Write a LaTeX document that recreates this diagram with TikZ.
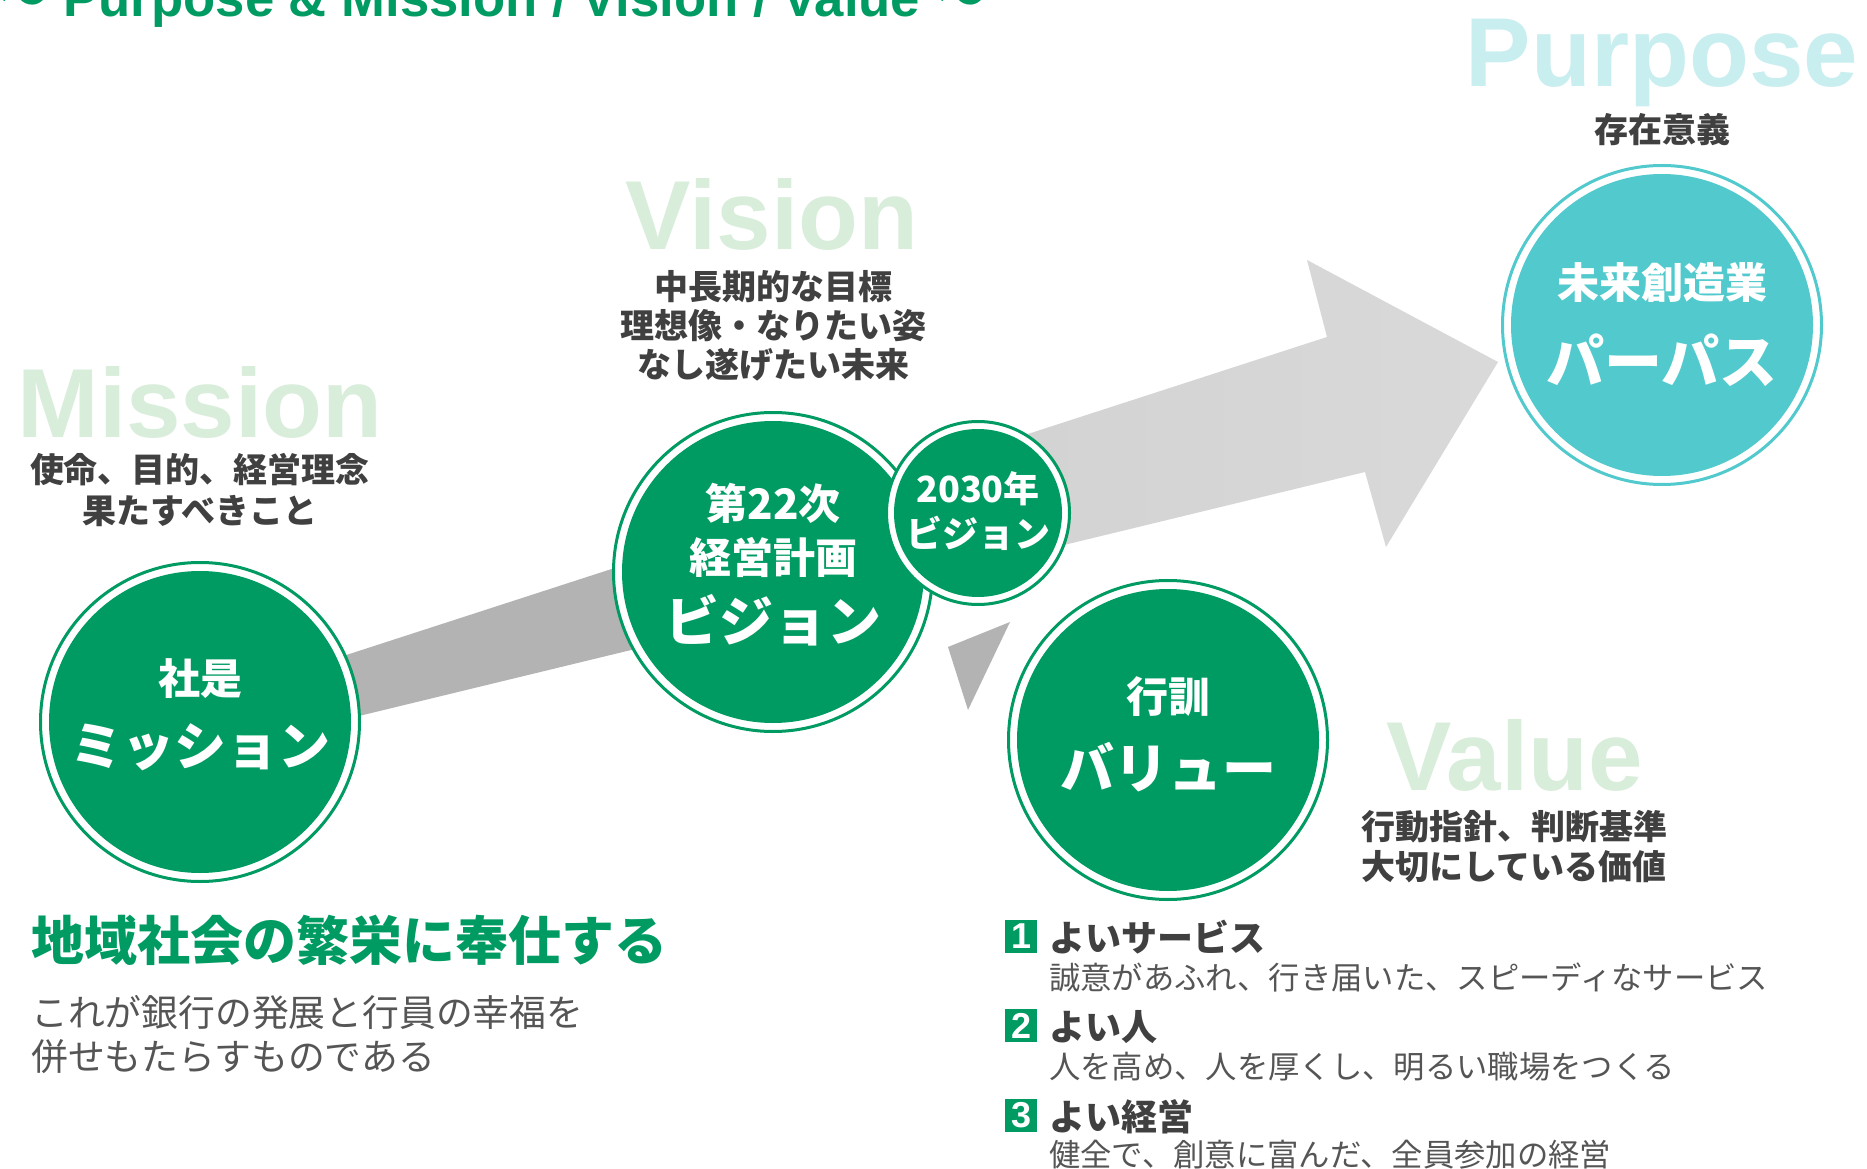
\documentclass[tikz,border=0pt]{standalone}
\usepackage{fontspec}
\setmainfont{Liberation Sans}
\newfontfamily\jp{Noto Sans CJK JP}

\definecolor{bkgreen}{RGB}{0,155,99}
\definecolor{pcyan}{RGB}{82,202,205}
\definecolor{wordgreen}{RGB}{217,237,219}
\definecolor{wordcyan}{RGB}{201,238,239}
\definecolor{txtgray}{RGB}{64,64,64}
\definecolor{descgray}{RGB}{85,85,85}
\definecolor{bandL}{RGB}{179,179,179}
\definecolor{bandM}{RGB}{211,211,211}
\definecolor{bandR}{RGB}{217,217,217}

\pgfdeclarehorizontalshading{bandshade}{100bp}{color(0bp)=(bandL); color(40bp)=(bandL); color(56bp)=(bandM); color(75bp)=(bandR); color(100bp)=(bandR)}

\begin{document}
\begin{tikzpicture}[x=0.75pt,y=0.75pt,yscale=-1,xscale=1,
  ringc/.style={draw=#1, fill=white, line width=2.25pt},
  bigword/.style={anchor=base, inner sep=0pt, font=\bfseries\fontsize{73.5pt}{74pt}\selectfont},
  subtxt/.style={inner sep=0pt, text=txtgray, align=center, font=\jp\bfseries\fontsize{25.5pt}{30pt}\selectfont},
  intop/.style={inner sep=0pt, text=white, font=\jp\bfseries\fontsize{31.5pt}{36pt}\selectfont},
  inbig/.style={inner sep=0pt, text=white, font=\jp\bfseries\fontsize{40.5pt}{45pt}\selectfont},
  insmall/.style={inner sep=0pt, text=white, align=center, font=\jp\bfseries\fontsize{27pt}{34pt}\selectfont},
  numbox/.style={inner sep=0pt, fill=bkgreen, text=white, minimum width=24pt, minimum height=24.75pt, font=\bfseries\fontsize{27pt}{27pt}\selectfont},
  itemhead/.style={anchor=west, inner sep=0pt, text=txtgray, font=\jp\bfseries\fontsize{27pt}{30pt}\selectfont},
  itemsub/.style={anchor=west, inner sep=0pt, text=descgray, font=\jp\fontsize{23.5pt}{28pt}\selectfont}
]
\clip (0,0) rectangle (1867,1169);
\fill [white] (0,0) rectangle (1867,1169);

%Shape: Arrow
\shade [shading=bandshade] (260,683) -- (1327,337) -- (1307,260) -- (1498,362) -- (1386,547) -- (1365,472) -- (260,740) -- cycle;
%Shape: Triangle
\fill [bandL] (948,647) -- (1010,622) -- (968,710) -- cycle;

%Shape: Circle
\draw [ringc=bkgreen] (200,722) circle [radius=159.5];
\fill [bkgreen] (200,722) circle [radius=151];
%Shape: Circle
\draw [ringc=bkgreen] (773,572) circle [radius=159.5];
\fill [bkgreen] (773,572) circle [radius=151];
%Shape: Circle
\draw [ringc=bkgreen] (978,513) circle [radius=91.5];
\fill [bkgreen] (978,513) circle [radius=84];
%Shape: Circle
\draw [ringc=bkgreen] (1168,740) circle [radius=159.5];
\fill [bkgreen] (1168,740) circle [radius=151];
%Shape: Circle
\draw [ringc=pcyan] (1662,325) circle [radius=159.5];
\fill [pcyan] (1662,325) circle [radius=151];

% Text Node
\node [anchor=base west, inner sep=0pt, text=bkgreen, font=\bfseries\fontsize{39.5pt}{40pt}\selectfont] (ttl) at (-4,17) {{\jp ～} Purpose \& Mission / Vision / Value {\jp ～}};

% Text Node
\node [bigword, text=wordcyan] (wpur) at (1662,87) {Purpose};
% Text Node
\node [subtxt] (dpur) at (1662,130) {存在意義};
% Text Node
\node [bigword, text=wordgreen] (wvis) at (772,250) {Vision};
% Text Node
\node [subtxt, font=\jp\bfseries\fontsize{25.5pt}{29.25pt}\selectfont] (dvis) at (773,326) {中長期的な目標\\理想像・なりたい姿\\なし遂げたい未来};
% Text Node
\node [bigword, text=wordgreen] (wmis) at (200,437) {Mission};
% Text Node
\node [subtxt, font=\jp\bfseries\fontsize{25.5pt}{30.75pt}\selectfont] (dmis) at (200,490) {使命、目的、経営理念\\果たすべきこと};
% Text Node
\node [bigword, text=wordgreen] (wval) at (1515,790) {Value};
% Text Node
\node [subtxt, anchor=west, align=left] (dval) at (1361,847) {行動指針、判断基準\\大切にしている価値};

% Text Node
\node [intop] (misT) at (200,679) {社是};
% Text Node
\node [inbig, font=\jp\bfseries\fontsize{39pt}{45pt}\selectfont] (misB) at (200,747) {ミッション};
% Text Node
\node [intop] (visT) at (773,503) {第22次};
% Text Node
\node [intop] (visM) at (773,557) {経営計画};
% Text Node
\node [inbig] (visB) at (773,620) {ビジョン};
% Text Node
\node [insmall] (v2030) at (978,511) {2030年\\ビジョン};
% Text Node
\node [intop] (valT) at (1168,697) {行訓};
% Text Node
\node [inbig] (valB) at (1168,767) {バリュー};
% Text Node
\node [intop] (purT) at (1662,283) {未来創造業};
% Text Node
\node [inbig, font=\jp\bfseries\fontsize{43.5pt}{45pt}\selectfont] (purB) at (1662,360) {パーパス};

% Text Node
\node [anchor=west, inner sep=0pt, text=bkgreen, font=\jp\bfseries\fontsize{39.75pt}{44pt}\selectfont] (slogan) at (31,940) {地域社会の繁栄に奉仕する};
% Text Node
\node [anchor=west, inner sep=0pt, align=left, text=descgray, font=\jp\fontsize{27.6pt}{33pt}\selectfont] (sdesc) at (31,1035) {これが銀行の発展と行員の幸福を\\併せもたらすものである};

% Text Node
\node [numbox] (n1) at (1021,936.5) {1};
\node [itemhead] (h1) at (1049,937) {よいサービス};
\node [itemsub] (s1) at (1049,977) {誠意があふれ、行き届いた、スピーディなサービス};
% Text Node
\node [numbox] (n2) at (1021,1025.5) {2};
\node [itemhead] (h2) at (1049,1027) {よい人};
\node [itemsub] (s2) at (1049,1067) {人を高め、人を厚くし、明るい職場をつくる};
% Text Node
\node [numbox] (n3) at (1021,1115.5) {3};
\node [itemhead] (h3) at (1049,1117) {よい経営};
\node [itemsub] (s3) at (1049,1155) {健全で、創意に富んだ、全員参加の経営};

\end{tikzpicture}
\end{document}
